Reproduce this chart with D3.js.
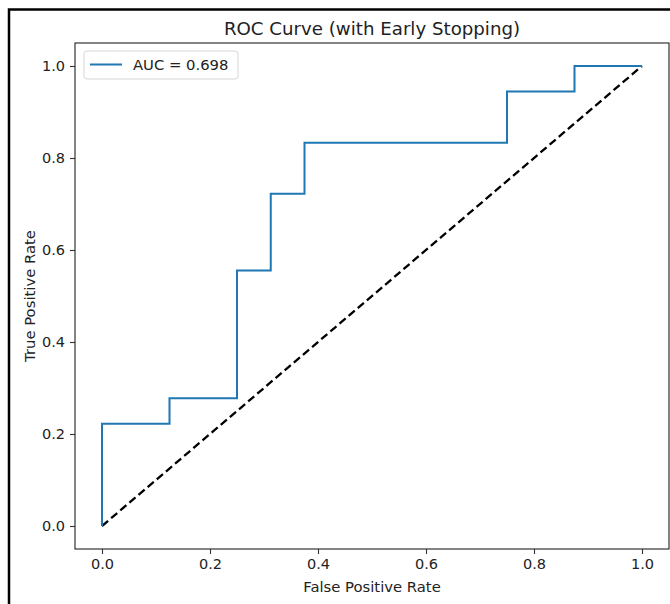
<!DOCTYPE html>
<html>
<head>
<meta charset="utf-8">
<script src="https://cdn.jsdelivr.net/npm/d3@7"></script>
<style>
  body { margin: 0; background: #fff; }
  svg { display: block; font-family: "DejaVu Sans", sans-serif; }
</style>
</head>
<body>
<svg id="chart" width="670" height="604"></svg>
<script>
// ROC curve points (16 negatives, 18 positives)
const fpr = [0, 0, 0.125, 0.125, 0.25, 0.25, 0.3125, 0.3125, 0.375, 0.375, 0.75, 0.75, 0.875, 0.875, 1.0];
const tpr = [0, 0.2222, 0.2222, 0.2778, 0.2778, 0.5556, 0.5556, 0.7222, 0.7222, 0.8333, 0.8333, 0.9444, 0.9444, 1.0, 1.0];
const chance = [[0, 0], [1, 1]];
const ticks = [0, 0.2, 0.4, 0.6, 0.8, 1.0];
const aucLabel = "AUC = 0.698";

const svg = d3.select("#chart");

// outer black frame of the screenshot
svg.append("path")
  .attr("d", "M9,604 L9,9.5 L670,9.5")
  .attr("fill", "none")
  .attr("stroke", "#000")
  .attr("stroke-width", 2.5);

const mLeft = 75, mRight = 669, mTop = 43, mBottom = 549;
let x = d3.scaleLinear().domain([-0.05, 1.05]).range([mLeft, mRight]);
let y = d3.scaleLinear().domain([-0.05, 1.05]).range([mBottom, mTop]);

let g = svg.append("g");

// lines
let pts = fpr.map((v, i) => [v, tpr[i]]);
let line = d3.line().x(d => x(d[0])).y(d => y(d[1]));

g.append("path")
  .attr("d", line(chance))
  .attr("fill", "none")
  .attr("stroke", "#000")
  .attr("stroke-width", 2.3)
  .attr("stroke-dasharray", "8,4");

g.append("path")
  .attr("d", line(pts))
  .attr("fill", "none")
  .attr("stroke", "#1f77b4")
  .attr("stroke-width", 2);

// axes
let xAxis = d3.axisBottom(x).tickValues(ticks).tickFormat(d3.format(".1f")).tickSize(5).tickPadding(5);
let yAxis = d3.axisLeft(y).tickValues(ticks).tickFormat(d3.format(".1f")).tickSize(5).tickPadding(5);

let gx = svg.append("g").attr("transform", `translate(0,${mBottom})`).call(xAxis);
let gy = svg.append("g").attr("transform", `translate(${mLeft},0)`).call(yAxis);
[gx, gy].forEach(a => {
  a.select(".domain").remove();
  a.selectAll(".tick line").attr("stroke", "#333").attr("stroke-width", 1.1);
  a.selectAll(".tick text").attr("fill", "#222").style("font-size", "14.5px").style("font-family", "DejaVu Sans");
});

// spines
svg.append("rect")
  .attr("x", mLeft).attr("y", mTop)
  .attr("width", mRight - mLeft).attr("height", mBottom - mTop)
  .attr("fill", "none")
  .attr("stroke", "#333")
  .attr("stroke-width", 1.2);

// titles
svg.append("text")
  .attr("x", (mLeft + mRight) / 2).attr("y", 34.5)
  .attr("text-anchor", "middle")
  .attr("fill", "#222")
  .style("font-size", "18.2px")
  .text("ROC Curve (with Early Stopping)");

svg.append("text")
  .attr("x", (mLeft + mRight) / 2).attr("y", 592)
  .attr("text-anchor", "middle")
  .attr("fill", "#222")
  .style("font-size", "14.8px")
  .text("False Positive Rate");

svg.append("text")
  .attr("transform", `translate(35,${(mTop + mBottom) / 2}) rotate(-90)`)
  .attr("text-anchor", "middle")
  .attr("fill", "#222")
  .style("font-size", "14.8px")
  .text("True Positive Rate");

// legend
let lg = svg.append("g");
lg.append("rect")
  .attr("x", 84).attr("y", 51).attr("width", 154).attr("height", 28)
  .attr("rx", 3)
  .attr("fill", "#fff")
  .attr("fill-opacity", 0.8)
  .attr("stroke", "#d6d6d6")
  .attr("stroke-width", 1);
lg.append("line")
  .attr("x1", 90).attr("x2", 122).attr("y1", 64.5).attr("y2", 64.5)
  .attr("stroke", "#1f77b4").attr("stroke-width", 2);
lg.append("text")
  .attr("x", 133).attr("y", 70)
  .attr("fill", "#222")
  .style("font-size", "14.8px")
  .text(aucLabel);
</script>
</body>
</html>
